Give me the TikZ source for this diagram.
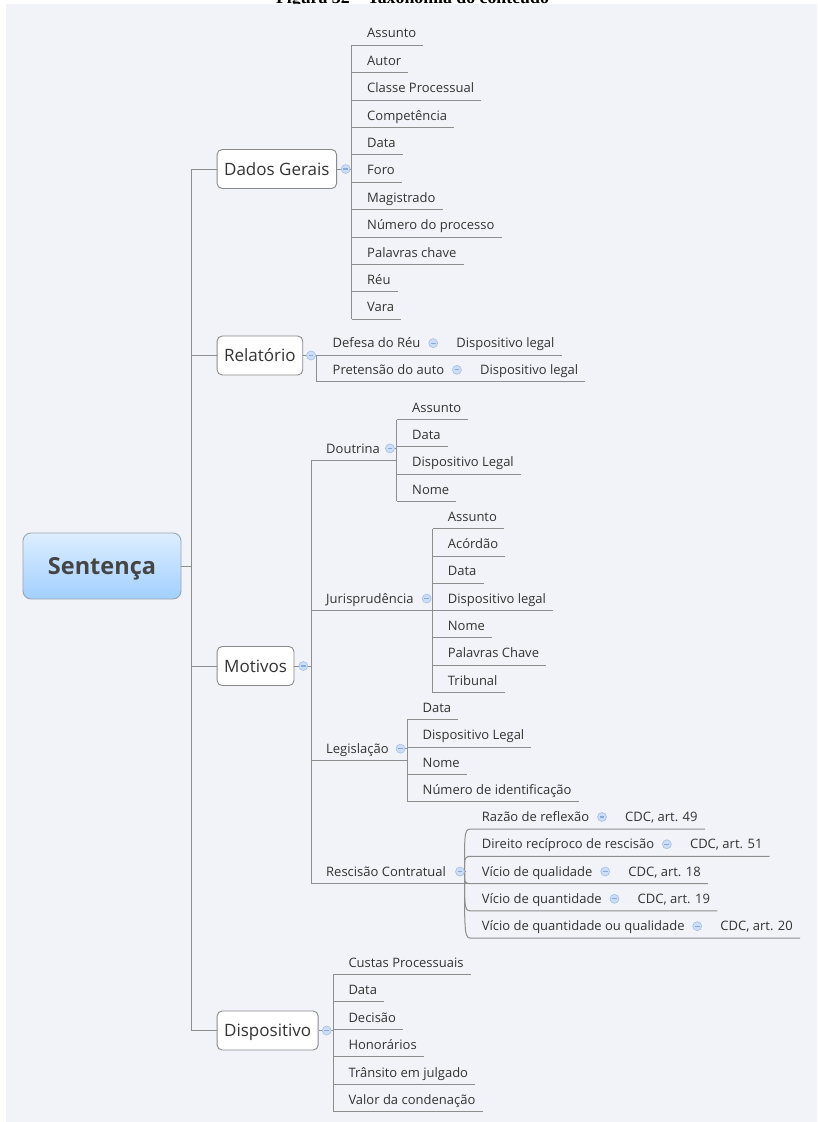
\documentclass[tikz,border=0pt]{standalone}
\usepackage{fontspec}
\newfontfamily\mapfont{Open Sans}
\newfontfamily\capfont{Liberation Serif}

\definecolor{panelbg}{HTML}{F2F3F8}
\definecolor{linegray}{HTML}{8E8E8E}
\definecolor{boxgray}{HTML}{8A8A8A}
\definecolor{txt}{HTML}{333333}
\definecolor{roottxt}{HTML}{454545}
\definecolor{rootTop}{HTML}{DDEEFF}
\definecolor{rootBot}{HTML}{A2CFFF}
\definecolor{rootEdge}{HTML}{9AA5B2}
\definecolor{iconFill}{HTML}{CCDDF5}
\definecolor{iconEdge}{HTML}{A3C0E8}
\definecolor{iconBar}{HTML}{88AADD}

\begin{document}
\begin{tikzpicture}[x=1pt, y=-1pt,
  conn/.style={draw=linegray, line width=1pt},
  leaf/.style={font=\mapfont\fontsize{13}{15}\selectfont, text=txt,
    inner xsep=0pt, inner ysep=0pt, text height=9.3pt, text depth=0pt,
    minimum height=23.7pt, anchor=west},
  topic/.style={draw=boxgray, fill=white, rounded corners=5pt, line width=0.9pt,
    font=\mapfont\fontsize{17}{20}\selectfont, text=txt,
    inner xsep=7pt, inner ysep=0pt, text height=12.1pt, text depth=0pt,
    minimum height=39pt, anchor=west},
  rootbox/.style={draw=rootEdge, line width=0.9pt, rounded corners=8pt,
    top color=rootTop, bottom color=rootBot,
    font=\mapfont\bfseries\fontsize{23.5}{26}\selectfont, text=roottxt,
    inner sep=0pt, text height=16.8pt, text depth=0pt,
    minimum width=158pt, minimum height=66pt},
  foldmark/.style={circle, minimum size=9pt, inner sep=0pt, fill=iconFill,
    draw=iconEdge, line width=0.6pt,
    path picture={\draw[iconBar, line width=1.1pt]
      ([xshift=-2.4pt]path picture bounding box.center) --
      ([xshift=2.4pt]path picture bounding box.center);}},
]
\useasboundingbox (0,0) rectangle (817,1122);
\clip (0,0) rectangle (817,1122);
\fill[white] (0,0) rectangle (817,1122);

% caption line above the map panel
\node[font=\capfont\bfseries\fontsize{17.8}{20}\selectfont, anchor=base, inner sep=0pt]
  (caption) at (412.5,3.3) {Figura 32 – Taxonomia do conteúdo};
\fill[panelbg] (6,4) rectangle (817,1122);

% ---------- root and trunk ----------
\node[rootbox] (root) at (102,566) {Sentença};
\coordinate (trunk) at (191.5,566);

\node[topic] (dados) at (216.7,169) {Dados Gerais};
\node[topic] (relat) at (216.7,355.5) {Relatório};
\node[topic] (motiv) at (216.7,666) {Motivos};
\node[topic] (dispo) at (216.7,1030.5) {Dispositivo};

\draw[conn] (root.east) -- (trunk);
\draw[conn] (dados.west -| trunk) -- (dispo.west -| trunk);
\foreach \b in {dados,relat,motiv,dispo}
  \draw[conn] (\b.west -| trunk) -- (\b.west);

% ---------- Dados Gerais ----------
\coordinate (dadosV) at (351.7,169);
\draw[conn] (dados.east) -- (dadosV);
\foreach \t [count=\i from 0] in {Assunto,Autor,Classe Processual,Competência,Data,Foro,Magistrado,Número do processo,Palavras chave,Réu,Vara}
  \node[leaf] (dg\i) at (367,{33.15+27.4*\i}) {\t};
\foreach \i in {0,...,10}
  \draw[conn] (dg\i.south -| dadosV) -- ([xshift=7pt]dg\i.south east);
\draw[conn] (dg0.south -| dadosV) -- (dg10.south -| dadosV);
\node[foldmark] (dadosF) at (345.7,169) {};

% ---------- Relatório ----------
\coordinate (relatV) at (316.7,355.5);
\draw[conn] (relat.east) -- (relatV);
\foreach \t/\c/\y [count=\i from 0] in {Defesa do Réu/Dispositivo legal/343.15, Pretensão do auto/Dispositivo legal/369.85}{
  \node[leaf] (rl\i) at (332.5,\y) {\t};
  \coordinate (rlf\i) at ([xshift=12.5pt]rl\i.east);
  \node[leaf] (rlc\i) at ([xshift=23pt]rlf\i) {\c};
}
\foreach \i in {0,1}
  \draw[conn] (rl\i.south -| relatV) -- ([xshift=7pt]rlc\i.south east);
\draw[conn] (rl0.south -| relatV) -- (rl1.south -| relatV);
\foreach \i in {0,1}
  \node[foldmark] (rlg\i) at (rlf\i) {};
\node[foldmark] (relatF) at (311,355.5) {};

% ---------- Motivos ----------
\coordinate (motivV) at (311,666);
\draw[conn] (motiv.east) -- (motivV);

\node[leaf] (dou) at (326,448.4) {Doutrina};
\node[leaf] (jur) at (326,598.55) {Jurisprudência};
\node[leaf] (leg) at (326,748.7) {Legislação};
\node[leaf] (res) at (326,871.55) {Rescisão Contratual};
\draw[conn] (dou.south -| motivV) -- (res.south -| motivV);

% Doutrina
\coordinate (douV) at (396.7,448.4);
\draw[conn] (dou.south -| motivV) -- (dou.south -| douV);
\foreach \t [count=\i from 0] in {Assunto,Data,Dispositivo Legal,Nome}
  \node[leaf] (dou\i) at (412,{407.45+27.3*\i}) {\t};
\foreach \i in {0,...,3}
  \draw[conn] (dou\i.south -| douV) -- ([xshift=7pt]dou\i.south east);
\draw[conn] (dou0.south -| douV) -- (dou3.south -| douV);
\node[foldmark] (douF) at (390,448.4) {};
\draw[conn] (douF.east) -- (douV);

% Jurisprudência
\coordinate (jurV) at (432.7,598.55);
\draw[conn] (jur.south -| motivV) -- (jur.south -| jurV);
\foreach \t [count=\i from 0] in {Assunto,Acórdão,Data,Dispositivo legal,Nome,Palavras Chave,Tribunal}
  \node[leaf] (jur\i) at (447.7,{407.45+27.3*(4+\i)}) {\t};
\foreach \i in {0,...,6}
  \draw[conn] (jur\i.south -| jurV) -- ([xshift=7pt]jur\i.south east);
\draw[conn] (jur0.south -| jurV) -- (jur6.south -| jurV);
\node[foldmark] (jurF) at (426.7,598.55) {};
\draw[conn] (jurF.east) -- (jurV);

% Legislação
\coordinate (legV) at (407,748.7);
\draw[conn] (leg.south -| motivV) -- (leg.south -| legV);
\foreach \t [count=\i from 0] in {Data,Dispositivo Legal,Nome,Número de identificação}
  \node[leaf] (leg\i) at (422.5,{407.45+27.3*(11+\i)}) {\t};
\foreach \i in {0,...,3}
  \draw[conn] (leg\i.south -| legV) -- ([xshift=7pt]leg\i.south east);
\draw[conn] (leg0.south -| legV) -- (leg3.south -| legV);
\node[foldmark] (legF) at (400.5,748.7) {};
\draw[conn] (legF.east) -- (legV);

% Rescisão Contratual
\coordinate (resP) at (464.5,871.55);
\coordinate (resX) at (472.5,871.55);
\draw[conn] (res.south -| motivV) -- (res.south -| resX);
\foreach \t/\c [count=\i from 0] in {Razão de reflexão/{CDC, art. 49}, Direito recíproco de rescisão/{CDC, art. 51}, Vício de qualidade/{CDC, art. 18}, Vício de quantidade/{CDC, art. 19}, Vício de quantidade ou qualidade/{CDC, art. 20}}{
  \node[leaf] (rc\i) at (481.7,{407.45+27.3*(15+\i)}) {\t};
  \coordinate (rcf\i) at ([xshift=12.5pt]rc\i.east);
  \node[leaf] (rd\i) at ([xshift=23pt]rcf\i) {\c};
}
\foreach \i in {0,...,4}
  \draw[conn] (resP) .. controls (resP |- rc\i.south) .. (rc\i.south -| resX)
    -- ([xshift=7pt]rd\i.south east);
\foreach \i in {0,...,4}
  \node[foldmark] (rcm\i) at (rcf\i) {};
\node[foldmark] (resF) at (460,871.55) {};
\draw[conn] (resF.east) -- (resP);
\node[foldmark] (motivF) at (303.3,666) {};

% ---------- Dispositivo ----------
\coordinate (dispoV) at (333.3,1030.5);
\draw[conn] (dispo.east) -- (dispoV);
\foreach \t [count=\i from 0] in {Custas Processuais,Data,Decisão,Honorários,Trânsito em julgado,Valor da condenação}
  \node[leaf] (dp\i) at (348.3,{962.45+27.48*\i}) {\t};
\foreach \i in {0,...,5}
  \draw[conn] (dp\i.south -| dispoV) -- ([xshift=7pt]dp\i.south east);
\draw[conn] (dp0.south -| dispoV) -- (dp5.south -| dispoV);
\node[foldmark] (dispoF) at (326.7,1030.5) {};
\end{tikzpicture}
\end{document}
